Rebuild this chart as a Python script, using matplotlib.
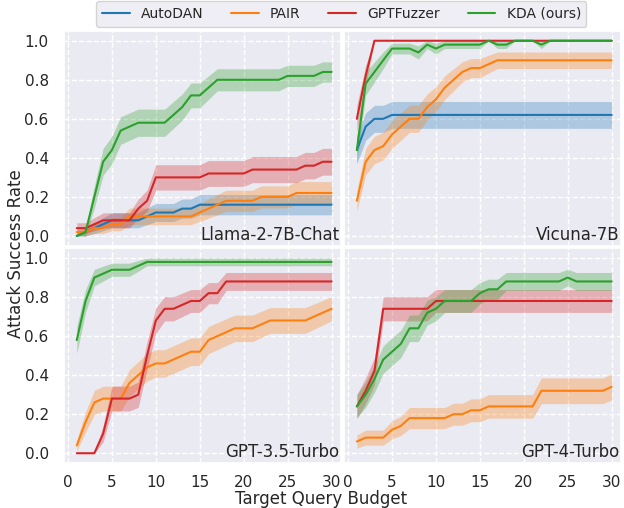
import numpy as np
import matplotlib
matplotlib.use('agg')
import matplotlib.pyplot as plt
import seaborn as sns

# presupuesto de consultas (eje x)
budget = list(range(1, 31))
n_behaviors = 50  # para la banda de error estandar

methods = ['AutoDAN', 'PAIR', 'GPTFuzzer', 'KDA (ours)']
colors = ['#1f77b4', '#ff7f0e', '#d62728', '#2ca02c']
targets = ['Llama-2-7B-Chat', 'Vicuna-7B', 'GPT-3.5-Turbo', 'GPT-4-Turbo']

# Llama-2-7B-Chat
autodan_llama = [0, .02, .04, .06, .08, .08, .08, .08, .10, .12, .12, .12, .14, .14, .16,
                 .16, .16, .16, .16, .16, .16, .16, .16, .16, .16, .16, .16, .16, .16, .16]
pair_llama = [.02, .02, .04, .04, .06, .06, .10, .10, .10, .10, .10, .10, .10, .10, .12,
              .14, .16, .18, .18, .18, .18, .20, .20, .20, .20, .22, .22, .22, .22, .22]
fuzzer_llama = [.04, .04, .06, .08, .08, .08, .08, .14, .18, .30, .30, .30, .30, .30, .30,
                .32, .32, .32, .32, .32, .34, .34, .34, .34, .34, .34, .36, .36, .38, .38]
kda_llama = [0, .02, .20, .38, .44, .54, .56, .58, .58, .58, .58, .62, .66, .72, .72,
             .76, .80, .80, .80, .80, .80, .80, .80, .80, .82, .82, .82, .82, .84, .84]

# Vicuna-7B
autodan_vicuna = [.44, .56, .60, .60, .62, .62, .62, .62, .62, .62, .62, .62, .62, .62, .62,
                  .62, .62, .62, .62, .62, .62, .62, .62, .62, .62, .62, .62, .62, .62, .62]
pair_vicuna = [.18, .38, .44, .46, .52, .56, .60, .60, .66, .70, .76, .80, .84, .86, .86,
               .88, .90, .90, .90, .90, .90, .90, .90, .90, .90, .90, .90, .90, .90, .90]
fuzzer_vicuna = [.60, .82, 1, 1, 1, 1, 1, 1, 1, 1, 1, 1, 1, 1, 1,
                 1, 1, 1, 1, 1, 1, 1, 1, 1, 1, 1, 1, 1, 1, 1]
kda_vicuna = [.44, .78, .84, .90, .96, .96, .96, .94, .98, .96, .98, .98, .98, .98, .98,
              1, .98, .98, 1, 1, 1, .98, 1, 1, 1, 1, 1, 1, 1, 1]

# GPT-3.5-Turbo (sin AutoDAN)
pair_gpt35 = [.04, .16, .26, .28, .28, .28, .36, .40, .44, .46, .46, .48, .50, .52, .52,
              .58, .60, .62, .64, .64, .64, .66, .68, .68, .68, .68, .68, .70, .72, .74]
fuzzer_gpt35 = [0, 0, 0, .10, .28, .28, .28, .30, .50, .68, .74, .74, .76, .78, .78,
                .82, .82, .88, .88, .88, .88, .88, .88, .88, .88, .88, .88, .88, .88, .88]
kda_gpt35 = [.58, .78, .90, .92, .94, .94, .94, .96, .98, .98, .98, .98, .98, .98, .98,
             .98, .98, .98, .98, .98, .98, .98, .98, .98, .98, .98, .98, .98, .98, .98]

# GPT-4-Turbo (sin AutoDAN)
pair_gpt4 = [.06, .08, .08, .08, .12, .14, .18, .18, .18, .18, .18, .20, .20, .22, .22,
             .24, .24, .24, .24, .24, .24, .32, .32, .32, .32, .32, .32, .32, .32, .34]
fuzzer_gpt4 = [.24, .32, .42, .74, .74, .74, .74, .74, .74, .78, .78, .78, .78, .78, .78,
               .78, .78, .78, .78, .78, .78, .78, .78, .78, .78, .78, .78, .78, .78, .78]
kda_gpt4 = [.24, .30, .38, .48, .52, .56, .64, .64, .72, .74, .78, .78, .78, .78, .82,
            .84, .84, .88, .88, .88, .88, .88, .88, .88, .90, .88, .88, .88, .88, .88]

results = {
    'Llama-2-7B-Chat': [autodan_llama, pair_llama, fuzzer_llama, kda_llama],
    'Vicuna-7B': [autodan_vicuna, pair_vicuna, fuzzer_vicuna, kda_vicuna],
    'GPT-3.5-Turbo': [None, pair_gpt35, fuzzer_gpt35, kda_gpt35],
    'GPT-4-Turbo': [None, pair_gpt4, fuzzer_gpt4, kda_gpt4],
}

sns.set_theme(style='darkgrid')
plt.rcParams['font.family'] = ['DejaVu Sans']
plt.rcParams['grid.linestyle'] = '--'

fig, axes = plt.subplots(2, 2, figsize=(6.24, 5.08), dpi=100, sharex=True, sharey=True)
fig.subplots_adjust(left=0.1026, right=0.995, top=0.939, bottom=0.0886, wspace=0.012, hspace=0.012)

x = np.array(budget)
for ax, target in zip(axes.flat, targets):
    for method, color, vals in zip(methods, colors, results[target]):
        if vals is None:
            continue
        p = np.array(vals)
        se = np.sqrt(p * (1 - p) / n_behaviors)
        ax.fill_between(x, p - se, p + se, color=color, alpha=0.3, linewidth=0)
        ax.plot(x, p, color=color, linewidth=1.5, label=method)
    ax.text(0.995, 0.008, target, transform=ax.transAxes, ha='right', va='bottom', fontsize=12,
            color='#262626')
    ax.set_xlim(-0.45, 31.05)
    ax.set_ylim(-0.05, 1.05)
    ax.set_xticks([0, 5, 10, 15, 20, 25, 30])
    ax.set_yticks([0.0, 0.2, 0.4, 0.6, 0.8, 1.0])
    ax.tick_params(axis='x', labelsize=11, pad=2.5)
    ax.tick_params(axis='y', labelsize=11, pad=5)

handles, labels = axes[0, 0].get_legend_handles_labels()
fig.legend(handles, labels, loc='upper center', ncol=4, fontsize=10,
           bbox_to_anchor=(0.547, 1.0), borderaxespad=0.1, columnspacing=2.0)

fig.text(0.514, 0.0, 'Target Query Budget', ha='center', va='bottom', fontsize=12)
fig.text(0.012, 0.5, 'Attack Success Rate', ha='left', va='center', rotation=90, fontsize=12)

plt.savefig('out.png', dpi=100)
